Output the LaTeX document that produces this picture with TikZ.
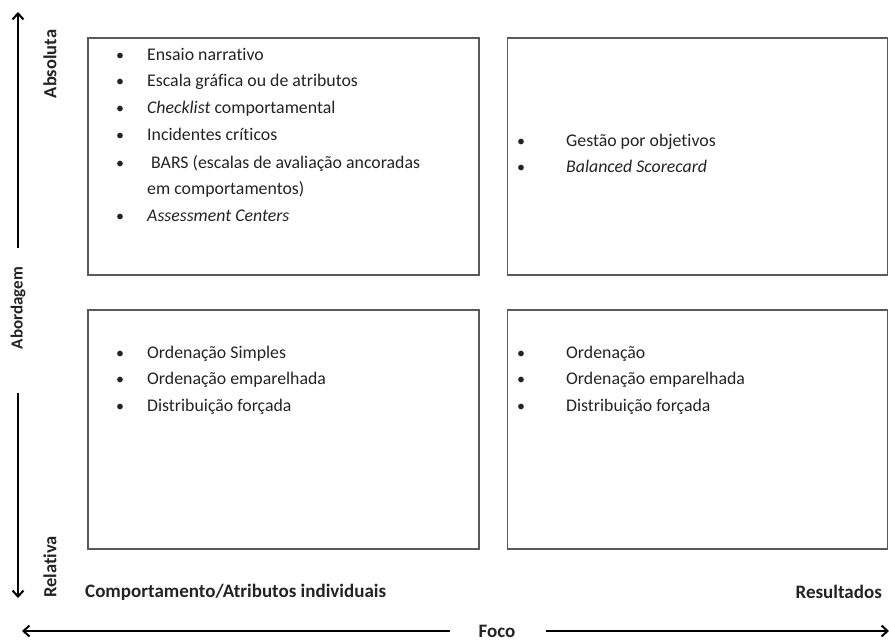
\documentclass[tikz,border=0pt]{standalone}
\usepackage{fontspec}
\setmainfont{Carlito}[Ligatures=NoCommon]
\usetikzlibrary{arrows.meta}
\definecolor{bordacinza}{RGB}{90,90,90}
\definecolor{textocinza}{RGB}{35,35,35}

\begin{document}
\begin{tikzpicture}[x=1pt,y=-1pt,
    quadro/.style={draw=bordacinza, line width=1.5pt, inner sep=0pt},
    item/.style={anchor=west, inner sep=0pt, text=textocinza, text height=1.6ex, text depth=.3ex,
                 font=\fontsize{17.8}{20}\selectfont},
    marca/.style={inner sep=0pt, text=textocinza, font=\fontsize{16}{18}\selectfont},
    rotulo/.style={inner sep=0pt, text=textocinza, font=\bfseries\fontsize{19}{21}\selectfont},
    eixo/.style={line width=2.3pt, -{Straight Barb[length=6pt,width=11pt,line width=2pt]}}]
    \useasboundingbox (0,0) rectangle (889,644);

    % Quadrantes
    \node[quadro, minimum width=391pt, minimum height=237pt] (q1) at (283.5,156.5) {};
    \node[quadro, minimum width=380pt, minimum height=237pt] (q2) at (697.5,156.5) {};
    \node[quadro, minimum width=391pt, minimum height=239pt] (q3) at (283.5,429.5) {};
    \node[quadro, minimum width=380pt, minimum height=239pt] (q4) at (697.5,429.5) {};

    % Absoluta / comportamento
    \foreach \y/\texto [count=\i] in {57/Ensaio narrativo, 83/Escala gráfica ou de atributos,
            110/\textit{Checklist} comportamental, 137/Incidentes críticos,
            165/\ BARS (escalas de avaliação ancoradas, 218/\textit{Assessment Centers}} {
        \node[marca] (b1\i) at (120,\y) {•};
        \node[item] (t1\i) at (147,\y) {\texto};
    }
    \node[item] (t1x) at (147,191) {em comportamentos)};

    % Absoluta / resultados
    \foreach \y/\texto [count=\i] in {143/Gestão por objetivos, 169/\textit{Balanced\ Scorecard}} {
        \node[marca] (b2\i) at (521,\y) {•};
        \node[item] (t2\i) at (566,\y) {\texto};
    }

    % Relativa / comportamento
    \foreach \y/\texto [count=\i] in {355/Ordenação Simples, 381/Ordenação emparelhada,
            408/Distribuição forçada} {
        \node[marca] (b3\i) at (120,\y) {•};
        \node[item] (t3\i) at (147,\y) {\texto};
    }

    % Relativa / resultados
    \foreach \y/\texto [count=\i] in {355/Ordenação, 381/Ordenação emparelhada,
            408/Distribuição forçada} {
        \node[marca] (b4\i) at (521,\y) {•};
        \node[item] (t4\i) at (566,\y) {\texto};
    }

    % Eixo vertical
    \coordinate (topo) at (18,12);
    \coordinate (fundo) at (18,598);
    \node[rotulo, rotate=90, font=\bfseries\fontsize{17}{19}\selectfont] (abordagem) at (18,308) {Abordagem};
    \node[rotulo, rotate=90, font=\bfseries\fontsize{18.5}{20}\selectfont] (absoluta) at (50,64) {Absoluta};
    \node[rotulo, rotate=90, font=\bfseries\fontsize{18.5}{20}\selectfont] (relativa) at (50,567) {Relativa};
    \draw[eixo, shorten <=19pt] (abordagem.east) -- (topo);
    \draw[eixo, shorten <=44pt] (abordagem.west) -- (fundo);

    % Eixo horizontal
    \coordinate (esq) at (22,631);
    \coordinate (dir) at (889,631);
    \node[rotulo] (foco) at (497,631) {Foco};
    \node[rotulo, anchor=west] (comport) at (85,592) {Comportamento/Atributos individuais};
    \node[rotulo, anchor=east] (result) at (882,592) {Resultados};
    \draw[eixo, shorten <=28pt] (foco.west) -- (esq);
    \draw[eixo, shorten <=30pt] (foco.east) -- (dir);
\end{tikzpicture}
\end{document}
